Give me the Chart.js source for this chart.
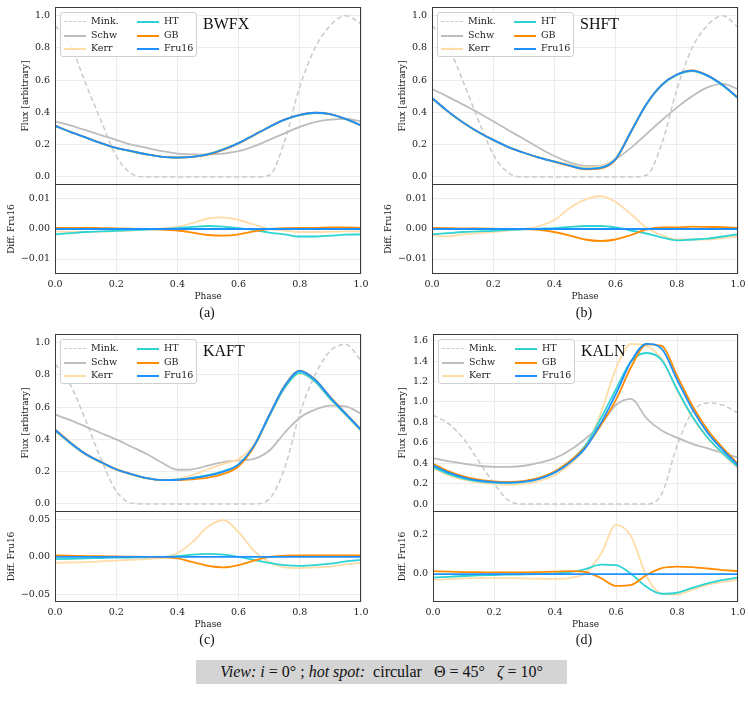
<!DOCTYPE html>
<html>
<head>
<meta charset="utf-8">
<script src="https://cdn.jsdelivr.net/npm/chart.js@4"></script>
<style>
body { margin: 0; background: #fff; }
#fig { position: relative; width: 748px; height: 701px; overflow: hidden; }
canvas { position: absolute; }
.leg { position: absolute; width: 135px; height: 43px; border: 1px solid #d0d0d0; border-radius: 3px; background: rgba(255,255,255,0.85); font: 9.5px 'DejaVu Serif', serif; color: #222; }
.leg .it { position: absolute; height: 12px; line-height: 12px; white-space: nowrap; }
.leg .ln { position: absolute; top: 6px; width: 22px; height: 0; }
.leg .tx { position: absolute; left: 27px; top: 0; }
.pname { position: absolute; font: 16px 'Liberation Serif', serif; color: #111; line-height: 16px; }
.cap { position: absolute; font: 14px 'Liberation Serif', serif; color: #111; transform: translate(-50%, -50%); }
#note { position: absolute; left: 196px; top: 660px; width: 371px; height: 24px; background: #d4d4d4; font: 16px 'Liberation Serif', serif; color: #111; text-align: center; line-height: 24px; }
</style>
</head>
<body>
<div id="fig">
  <canvas id="fa" width="370" height="186" style="left:0;top:0"></canvas>
  <canvas id="da" width="370" height="121" style="left:0;top:184px"></canvas>
  <canvas id="fb" width="374" height="186" style="left:374px;top:0"></canvas>
  <canvas id="db" width="374" height="121" style="left:374px;top:184px"></canvas>
  <canvas id="fc" width="370" height="186" style="left:0;top:327px"></canvas>
  <canvas id="dc" width="370" height="122" style="left:0;top:511px"></canvas>
  <canvas id="fd" width="374" height="186" style="left:374px;top:327px"></canvas>
  <canvas id="dd" width="374" height="122" style="left:374px;top:511px"></canvas>
  <div id="note"><i>View:</i> <i>i</i> = 0° ; <i>hot spot:</i> &nbsp;circular &nbsp;&nbsp;Θ = 45° &nbsp;&nbsp;<i>ζ</i> = 10°</div>
</div>
<script>
// phase grid shared by every curve
const phase = [0, 0.05, 0.1, 0.15, 0.2, 0.25, 0.3, 0.35, 0.4, 0.45, 0.5, 0.55, 0.6, 0.65, 0.7, 0.75, 0.8, 0.85, 0.9, 0.95, 1];

const seriesNames = ['Mink.', 'Schw', 'Kerr', 'HT', 'GB', 'Fru16'];
const panelNames = ['BWFX', 'SHFT', 'KAFT', 'KALN'];
const captions = ['(a)', '(b)', '(c)', '(d)'];

const phaseTicks = [0, 0.2, 0.4, 0.6, 0.8, 1.0];
const fluxTicks = [0, 0.2, 0.4, 0.6, 0.8, 1.0];
const fluxTicksD = [0, 0.2, 0.4, 0.6, 0.8, 1.0, 1.2, 1.4, 1.6];
const diffTicksAB = [-0.01, 0, 0.01];
const diffTicksC = [-0.05, 0, 0.05];
const diffTicksD = [0, 0.2];

// (a) BWFX
const minkA = [0.94, 0.82, 0.58, 0.35, 0.13, 0.02, 0, 0, 0, 0, 0, 0, 0, 0, 0.01, 0.22, 0.56, 0.80, 0.94, 1.0, 0.95];
const schwA = [0.345, 0.32, 0.29, 0.26, 0.23, 0.20, 0.18, 0.16, 0.145, 0.14, 0.14, 0.145, 0.16, 0.19, 0.23, 0.27, 0.31, 0.34, 0.355, 0.36, 0.345];
const kerrA = [0.317, 0.279, 0.244, 0.209, 0.179, 0.159, 0.14, 0.126, 0.122, 0.127, 0.144, 0.174, 0.213, 0.262, 0.31, 0.355, 0.384, 0.397, 0.389, 0.359, 0.319];
const htA = [0.316, 0.279, 0.244, 0.209, 0.179, 0.159, 0.14, 0.125, 0.12, 0.125, 0.141, 0.171, 0.21, 0.259, 0.309, 0.353, 0.383, 0.396, 0.388, 0.358, 0.318];
const gbA = [0.318, 0.28, 0.245, 0.21, 0.18, 0.16, 0.14, 0.125, 0.12, 0.124, 0.138, 0.168, 0.208, 0.259, 0.31, 0.355, 0.385, 0.398, 0.39, 0.36, 0.32];
const fruA = [0.318, 0.28, 0.245, 0.21, 0.18, 0.16, 0.14, 0.125, 0.12, 0.125, 0.14, 0.17, 0.21, 0.26, 0.31, 0.355, 0.385, 0.398, 0.39, 0.36, 0.32];
const dKerrA = [-0.0008, -0.001, -0.001, -0.0009, -0.0007, -0.0005, -0.0002, 0.0002, 0.0008, 0.002, 0.0035, 0.0039, 0.003, 0.0015, 0.0, -0.0005, -0.001, -0.001, -0.0009, -0.0008, -0.0008];
const dHtA = [-0.0018, -0.0014, -0.001, -0.0008, -0.0006, -0.0004, -0.0002, 0.0, 0.0003, 0.0007, 0.001, 0.0008, 0.0003, -0.0003, -0.0012, -0.0018, -0.0025, -0.0025, -0.0022, -0.0019, -0.0018];
const dGbA = [0.0004, 0.0004, 0.0004, 0.0003, 0.0002, 0.0001, 0.0, -0.0002, -0.0005, -0.0012, -0.002, -0.0022, -0.0018, -0.0008, 0.0, 0.0003, 0.0004, 0.0004, 0.0005, 0.0005, 0.0004];
const dFruA = [0, 0, 0, 0, 0, 0, 0, 0, 0, 0, 0, 0, 0, 0, 0, 0, 0, 0, 0, 0, 0];

// (b) SHFT
const minkB = [0.94, 0.82, 0.60, 0.36, 0.14, 0.025, 0, 0, 0, 0, 0, 0, 0, 0, 0.01, 0.20, 0.54, 0.80, 0.94, 1.0, 0.93];
const schwB = [0.545, 0.50, 0.45, 0.40, 0.345, 0.29, 0.235, 0.18, 0.13, 0.09, 0.068, 0.07, 0.11, 0.18, 0.265, 0.35, 0.43, 0.50, 0.555, 0.577, 0.545];
const kerrB = [0.488, 0.408, 0.338, 0.279, 0.229, 0.185, 0.15, 0.121, 0.098, 0.077, 0.06, 0.067, 0.119, 0.285, 0.45, 0.568, 0.632, 0.657, 0.627, 0.567, 0.488];
const htB = [0.488, 0.409, 0.339, 0.279, 0.229, 0.185, 0.15, 0.12, 0.095, 0.071, 0.051, 0.057, 0.11, 0.279, 0.448, 0.567, 0.631, 0.656, 0.627, 0.567, 0.488];
const gbB = [0.49, 0.41, 0.34, 0.28, 0.23, 0.185, 0.15, 0.12, 0.094, 0.068, 0.047, 0.052, 0.107, 0.278, 0.45, 0.57, 0.635, 0.661, 0.631, 0.571, 0.49];
const fruB = [0.49, 0.41, 0.34, 0.28, 0.23, 0.185, 0.15, 0.12, 0.095, 0.07, 0.05, 0.056, 0.11, 0.28, 0.45, 0.57, 0.635, 0.66, 0.63, 0.57, 0.49];
const dKerrB = [-0.002, -0.0025, -0.0018, -0.0014, -0.001, -0.0005, 0.0, 0.001, 0.003, 0.007, 0.0098, 0.011, 0.009, 0.005, 0.0005, -0.002, -0.0035, -0.0035, -0.0035, -0.003, -0.0025];
const dHtB = [-0.0018, -0.0014, -0.001, -0.0008, -0.0006, -0.0003, -0.0001, 0.0001, 0.0003, 0.0007, 0.001, 0.001, 0.0005, -0.0005, -0.0015, -0.0028, -0.0038, -0.0035, -0.0032, -0.0025, -0.0018];
const dGbB = [0.0004, 0.0003, 0.0002, 0.0002, 0.0001, 0.0, 0.0, -0.0003, -0.001, -0.0022, -0.0035, -0.004, -0.0035, -0.002, -0.0002, 0.0005, 0.0005, 0.0008, 0.0007, 0.0006, 0.0004];
const dFruB = [0, 0, 0, 0, 0, 0, 0, 0, 0, 0, 0, 0, 0, 0, 0, 0, 0, 0, 0, 0, 0];

// (c) KAFT
const minkC = [0.87, 0.74, 0.52, 0.28, 0.08, 0.005, 0, 0, 0, 0, 0, 0, 0, 0, 0.03, 0.22, 0.56, 0.80, 0.95, 0.99, 0.89];
const schwC = [0.555, 0.52, 0.48, 0.44, 0.40, 0.355, 0.31, 0.255, 0.212, 0.215, 0.238, 0.26, 0.27, 0.28, 0.33, 0.44, 0.535, 0.585, 0.61, 0.605, 0.56];
const kerrC = [0.452, 0.373, 0.303, 0.254, 0.21, 0.181, 0.157, 0.147, 0.155, 0.18, 0.215, 0.249, 0.278, 0.368, 0.543, 0.716, 0.81, 0.756, 0.647, 0.55, 0.452];
const htC = [0.457, 0.378, 0.308, 0.259, 0.214, 0.184, 0.16, 0.148, 0.151, 0.163, 0.179, 0.203, 0.245, 0.356, 0.542, 0.719, 0.813, 0.759, 0.651, 0.554, 0.456];
const gbC = [0.462, 0.382, 0.311, 0.261, 0.216, 0.185, 0.16, 0.148, 0.148, 0.153, 0.163, 0.186, 0.234, 0.355, 0.55, 0.732, 0.827, 0.772, 0.662, 0.562, 0.462];
const fruC = [0.46, 0.38, 0.31, 0.26, 0.215, 0.185, 0.16, 0.148, 0.15, 0.16, 0.175, 0.2, 0.245, 0.36, 0.55, 0.73, 0.825, 0.77, 0.66, 0.56, 0.46];
const dKerrC = [-0.008, -0.0075, -0.007, -0.006, -0.005, -0.004, -0.003, -0.001, 0.005, 0.02, 0.04, 0.049, 0.033, 0.008, -0.007, -0.014, -0.015, -0.014, -0.013, -0.01, -0.008];
const dHtC = [-0.003, -0.0025, -0.002, -0.0015, -0.001, -0.0008, -0.0005, 0, 0.001, 0.003, 0.004, 0.003, 0, -0.004, -0.008, -0.011, -0.012, -0.011, -0.009, -0.006, -0.004];
const dGbC = [0.002, 0.0015, 0.001, 0.0008, 0.0005, 0.0003, 0, -0.0005, -0.002, -0.007, -0.012, -0.014, -0.011, -0.005, 0, 0.0015, 0.002, 0.002, 0.002, 0.002, 0.002];
const dFruC = [0, 0, 0, 0, 0, 0, 0, 0, 0, 0, 0, 0, 0, 0, 0, 0, 0, 0, 0, 0, 0];

// (d) KALN
const minkD = [0.87, 0.79, 0.64, 0.42, 0.20, 0.03, 0, 0, 0, 0, 0, 0, 0, 0, 0, 0.10, 0.57, 0.90, 0.99, 0.97, 0.89];
const schwD = [0.45, 0.42, 0.395, 0.375, 0.365, 0.365, 0.375, 0.405, 0.45, 0.53, 0.64, 0.78, 0.97, 1.03, 0.84, 0.72, 0.65, 0.59, 0.545, 0.50, 0.455];
const kerrD = [0.35, 0.284, 0.238, 0.209, 0.195, 0.189, 0.198, 0.226, 0.285, 0.39, 0.555, 0.89, 1.33, 1.57, 1.55, 1.42, 1.115, 0.85, 0.645, 0.49, 0.35];
const htD = [0.362, 0.296, 0.25, 0.223, 0.21, 0.207, 0.218, 0.25, 0.313, 0.42, 0.575, 0.838, 1.125, 1.40, 1.48, 1.41, 1.125, 0.86, 0.652, 0.50, 0.362];
const gbD = [0.395, 0.322, 0.27, 0.239, 0.223, 0.218, 0.228, 0.26, 0.322, 0.425, 0.56, 0.77, 1.02, 1.345, 1.565, 1.55, 1.258, 0.965, 0.728, 0.55, 0.395];
const fruD = [0.38, 0.31, 0.26, 0.23, 0.215, 0.21, 0.22, 0.25, 0.31, 0.41, 0.55, 0.79, 1.08, 1.40, 1.57, 1.52, 1.22, 0.93, 0.70, 0.53, 0.38];
const dKerrD = [-0.03, -0.026, -0.022, -0.021, -0.02, -0.021, -0.022, -0.024, -0.025, -0.02, 0.005, 0.10, 0.25, 0.19, -0.01, -0.10, -0.105, -0.08, -0.055, -0.04, -0.03];
const dHtD = [-0.018, -0.014, -0.01, -0.007, -0.005, -0.003, -0.002, 0, 0.003, 0.01, 0.025, 0.048, 0.045, 0.0, -0.065, -0.1, -0.095, -0.07, -0.048, -0.03, -0.018];
const dGbD = [0.015, 0.012, 0.01, 0.009, 0.008, 0.008, 0.008, 0.01, 0.012, 0.015, 0.01, -0.02, -0.06, -0.055, -0.005, 0.03, 0.038, 0.035, 0.028, 0.02, 0.015];
const dFruD = [0, 0, 0, 0, 0, 0, 0, 0, 0, 0, 0, 0, 0, 0, 0, 0, 0, 0, 0, 0, 0];

// line styles, same order as seriesNames
const lineStyles = [
  { color: '#cacaca', width: 1.5, dash: [5, 3] },
  { color: '#bdbdbd', width: 1.8, dash: [] },
  { color: '#ffdca8', width: 1.8, dash: [] },
  { color: '#2ed3d3', width: 1.8, dash: [] },
  { color: '#ff8c00', width: 1.8, dash: [] },
  { color: '#1e90ff', width: 1.8, dash: [] }
];

const gridColor = '#ececec';
const textColor = '#222';
const tickFont = { family: 'DejaVu Serif', size: 9.5 };
const titleFont = { family: 'DejaVu Serif', size: 9 };

const frame = {
  id: 'frame',
  afterDraw(chart) {
    const a = chart.chartArea, ctx = chart.ctx;
    const l = Math.round(a.left), t = Math.round(a.top), r = Math.round(a.right), b = Math.round(a.bottom);
    ctx.save();
    ctx.strokeStyle = '#3a3a3a';
    ctx.lineWidth = 1;
    ctx.strokeRect(l + 0.5, t + 0.5, r - l - 1, b - t - 1);
    ctx.restore();
  }
};

function fmt(dec) {
  return v => Number(v).toFixed(dec).replace('-', '\u2212');
}

function buildSets(list, offset) {
  // first series in the list is drawn underneath, last on top
  return list.map((vals, i) => {
    const st = lineStyles[i + offset];
    return {
      label: seriesNames[i + offset],
      data: phase.map((p, k) => ({ x: p, y: vals[k] })),
      borderColor: st.color,
      borderWidth: st.width,
      borderDash: st.dash,
      order: list.length - i,
      fill: false
    };
  });
}

function makeChart(id, datasets, o) {
  return new Chart(document.getElementById(id), {
    type: 'line',
    data: { datasets: datasets },
    options: {
      responsive: false,
      animation: false,
      events: [],
      layout: { padding: { top: o.padTop, right: o.padRight, left: 0, bottom: 0 } },
      plugins: { legend: { display: false }, tooltip: { enabled: false } },
      elements: { point: { radius: 0 }, line: { cubicInterpolationMode: 'monotone' } },
      scales: {
        x: {
          type: 'linear', min: 0, max: 1,
          afterBuildTicks: s => { s.ticks = phaseTicks.map(v => ({ value: v })); },
          afterFit: s => { s.height = o.xHeight; s.paddingLeft = 0; s.paddingRight = 0; },
          grid: { color: gridColor, drawTicks: false },
          border: { display: false },
          ticks: { display: o.showX, padding: 5, font: tickFont, color: textColor, maxRotation: 0, autoSkip: false, callback: fmt(1) },
          title: { display: o.showX, text: 'Phase', font: titleFont, color: textColor, padding: { top: 0, bottom: 3 } }
        },
        y: {
          type: 'linear', min: o.yMin, max: o.yMax,
          afterBuildTicks: s => { s.ticks = o.yTicks.map(v => ({ value: v })); },
          afterFit: s => { s.width = o.yWidth; s.paddingTop = 0; s.paddingBottom = 0; },
          grid: { color: gridColor, drawTicks: false },
          border: { display: false },
          ticks: { padding: 5, font: tickFont, color: textColor, autoSkip: false, callback: fmt(o.dec) },
          title: { display: true, text: o.yTitle, font: titleFont, color: textColor, padding: { top: o.titleX - 5.4, bottom: 0 } }
        }
      }
    },
    plugins: [frame]
  });
}

const panels = [
  { flux: [minkA, schwA, kerrA, htA, gbA, fruA], diff: [dKerrA, dHtA, dGbA, dFruA], f: 'fa', d: 'da',
    left: 0, top: 0, yWidth: 55, padRight: 9, fluxMax: 1.054, fluxMin: -0.05, fTicks: fluxTicks,
    dMin: -0.015, dMax: 0.015, dTicks: diffTicksAB, dDec: 2, fTitleX: 26, dTitleX: 12 },
  { flux: [minkB, schwB, kerrB, htB, gbB, fruB], diff: [dKerrB, dHtB, dGbB, dFruB], f: 'fb', d: 'db',
    left: 374, top: 0, yWidth: 58, padRight: 10, fluxMax: 1.054, fluxMin: -0.05, fTicks: fluxTicks,
    dMin: -0.015, dMax: 0.015, dTicks: diffTicksAB, dDec: 2, fTitleX: 29, dTitleX: 15 },
  { flux: [minkC, schwC, kerrC, htC, gbC, fruC], diff: [dKerrC, dHtC, dGbC, dFruC], f: 'fc', d: 'dc',
    left: 0, top: 327, yWidth: 55, padRight: 9, fluxMax: 1.054, fluxMin: -0.05, fTicks: fluxTicks,
    dMin: -0.06, dMax: 0.061, dTicks: diffTicksC, dDec: 2, fTitleX: 26, dTitleX: 12 },
  { flux: [minkD, schwD, kerrD, htD, gbD, fruD], diff: [dKerrD, dHtD, dGbD, dFruD], f: 'fd', d: 'dd',
    left: 374, top: 327, yWidth: 59, padRight: 10, fluxMax: 1.666, fluxMin: -0.078, fTicks: fluxTicksD,
    dMin: -0.142, dMax: 0.32, dTicks: diffTicksD, dDec: 1, fTitleX: 29, dTitleX: 29 }
];

const fig = document.getElementById('fig');

panels.forEach((p, i) => {
  makeChart(p.f, buildSets(p.flux, 0), {
    padTop: 7, padRight: p.padRight, xHeight: 1, showX: false,
    yMin: p.fluxMin, yMax: p.fluxMax, yTicks: p.fTicks, dec: 1,
    yWidth: p.yWidth, yTitle: 'Flux [arbitrary]', titleX: p.fTitleX
  });
  makeChart(p.d, buildSets(p.diff, 2), {
    padTop: 0, padRight: p.padRight, xHeight: 31, showX: true,
    yMin: p.dMin, yMax: p.dMax, yTicks: p.dTicks, dec: p.dDec,
    yWidth: p.yWidth, yTitle: 'Diff. Fru16', titleX: p.dTitleX
  });

  const plotLeft = p.left + p.yWidth;

  // legend inside the upper axes
  const leg = document.createElement('div');
  leg.className = 'leg';
  leg.style.left = (plotLeft + 5) + 'px';
  leg.style.top = (p.top + 12) + 'px';
  seriesNames.forEach((name, k) => {
    const st = lineStyles[k];
    const it = document.createElement('div');
    it.className = 'it';
    it.style.left = (k < 3 ? 3 : 76) + 'px';
    it.style.top = (2 + (k % 3) * 13.5) + 'px';
    const ln = document.createElement('span');
    ln.className = 'ln';
    ln.style.borderTop = (st.dash.length ? '1.5px dashed ' : '2px solid ') + st.color;
    const tx = document.createElement('span');
    tx.className = 'tx';
    tx.textContent = name;
    it.appendChild(ln);
    it.appendChild(tx);
    leg.appendChild(it);
  });
  fig.appendChild(leg);

  const nm = document.createElement('div');
  nm.className = 'pname';
  nm.style.left = (plotLeft + 148) + 'px';
  nm.style.top = (p.top + 16) + 'px';
  nm.textContent = panelNames[i];
  fig.appendChild(nm);

  const cap = document.createElement('div');
  cap.className = 'cap';
  cap.style.left = (i % 2 ? 584 : 207) + 'px';
  cap.style.top = (p.top + 313) + 'px';
  cap.textContent = captions[i];
  fig.appendChild(cap);
});
</script>
</body>
</html>
